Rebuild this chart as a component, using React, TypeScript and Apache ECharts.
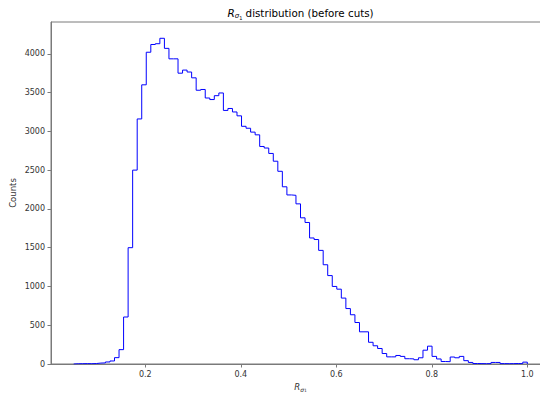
import React, { useEffect, useRef } from "react";
import * as echarts from "echarts";

// Histogram of R_sigma1: 100 equal-width bins starting at 0.05
const binStart = 0.05;
const binWidth = 0.0095;
const counts: number[] = [
  3, 4, 5, 4, 6, 12, 14, 26, 39, 82,
  185, 606, 1500, 2500, 3160, 3600, 4020, 4120, 4130, 4200,
  4070, 3935, 3935, 3750, 3790, 3765, 3690, 3530, 3540, 3430,
  3410, 3460, 3495, 3270, 3295, 3250, 3200, 3065, 3040, 2990,
  2955, 2805, 2785, 2715, 2615, 2485, 2285, 2180, 2175, 2065,
  1885, 1825, 1625, 1605, 1465, 1280, 1140, 1000, 965, 850,
  715, 635, 535, 415, 415, 280, 235, 200, 135, 92,
  92, 110, 98, 68, 66, 55, 80, 178, 230, 98,
  65, 32, 30, 90, 80, 98, 43, 20, 6, 5,
  4, 5, 20, 20, 5, 4, 5, 6, 5, 24,
];

const xTicks = [0.2, 0.4, 0.6, 0.8, 1.0];
const yTicks = [0, 500, 1000, 1500, 2000, 2500, 3000, 3500, 4000];

// Axis limits with 5% horizontal padding around the bin range
const xMin = 0.0025;
const xMax = 1.0475;
const yMax = 4410;

const FONT = "DejaVu Sans";
const SPINE = "#7a7a7a";
const TEXT = "#333333";

function stepOutline(): [number, number][] {
  const edges = counts.map((_, i) => binStart + i * binWidth);
  const last = binStart + counts.length * binWidth;
  const pts: [number, number][] = [[edges[0], 0]];
  counts.forEach((c, i) => pts.push([edges[i], c]));
  pts.push([last, 0]);
  return pts;
}

const subRich = {
  r: { fontFamily: FONT, fontStyle: "italic" as const, fontSize: 10.5, color: "#222" },
  s: { fontFamily: FONT, fontStyle: "italic" as const, fontSize: 7, color: "#222", padding: [6, 0, 0, 0] },
  n: { fontFamily: FONT, fontSize: 5, color: "#222", padding: [9, 0, 0, 0] },
  t: { fontFamily: FONT, fontSize: 10.3, color: "#222" },
};

const axRich = {
  r: { fontFamily: FONT, fontStyle: "italic" as const, fontSize: 8.5, color: TEXT },
  s: { fontFamily: FONT, fontStyle: "italic" as const, fontSize: 6, color: TEXT, padding: [5, 0, 0, 0] },
  n: { fontFamily: FONT, fontSize: 4.5, color: TEXT, padding: [7, 0, 0, 0] },
};

export default function App() {
  const ref = useRef<HTMLDivElement>(null);

  useEffect(() => {
    if (!ref.current) return;
    const chart = echarts.init(ref.current, undefined, { renderer: "svg" });
    chart.setOption({
      animation: false,
      backgroundColor: "#ffffff",
      grid: {
        left: 51,
        top: 22,
        width: 499,
        bottom: 37,
        show: true,
        borderColor: SPINE,
        borderWidth: 1,
        containLabel: false,
        outerBoundsMode: "none",
      },
      graphic: [
        {
          type: "text",
          x: 300.5,
          y: 13,
          style: {
            text: "{r|R}{s|σ}{n|1}{t| distribution (before cuts)}",
            rich: subRich,
            align: "center",
            verticalAlign: "middle",
          },
        },
      ],
      xAxis: {
        type: "value",
        min: xMin,
        max: xMax,
        name: "{r|R}{s|σ}{n|1}",
        nameLocation: "middle",
        nameGap: 17,
        nameMoveOverlap: false,
        nameTextStyle: { rich: axRich },
        splitLine: { show: false },
        axisLine: { show: true, onZero: false, lineStyle: { color: SPINE, width: 1 } },
        axisTick: {
          show: true,
          length: 3.5,
          customValues: xTicks,
          lineStyle: { color: SPINE, width: 1 },
        },
        axisLabel: {
          customValues: xTicks,
          formatter: (v: number) => v.toFixed(1),
          fontFamily: FONT,
          fontSize: 8,
          color: TEXT,
          margin: 6,
        },
      },
      yAxis: {
        type: "value",
        min: 0,
        max: yMax,
        name: "Counts",
        nameLocation: "middle",
        nameGap: 34,
        nameMoveOverlap: false,
        nameTextStyle: { fontFamily: FONT, fontSize: 8.5, color: TEXT },
        splitLine: { show: false },
        axisLine: { show: true, lineStyle: { color: SPINE, width: 1 } },
        axisTick: {
          show: true,
          length: 3.5,
          customValues: yTicks,
          lineStyle: { color: SPINE, width: 1 },
        },
        axisLabel: {
          customValues: yTicks,
          formatter: (v: number) => String(v),
          fontFamily: FONT,
          fontSize: 8,
          color: TEXT,
          margin: 6,
        },
      },
      series: [
        {
          type: "line",
          step: "end",
          data: stepOutline(),
          showSymbol: false,
          symbol: "none",
          lineStyle: { color: "#0000ff", width: 1 },
          clip: true,
        },
      ],
    });
    return () => chart.dispose();
  }, []);

  return <div ref={ref} style={{ width: 548, height: 401, margin: -8 }} />;
}
